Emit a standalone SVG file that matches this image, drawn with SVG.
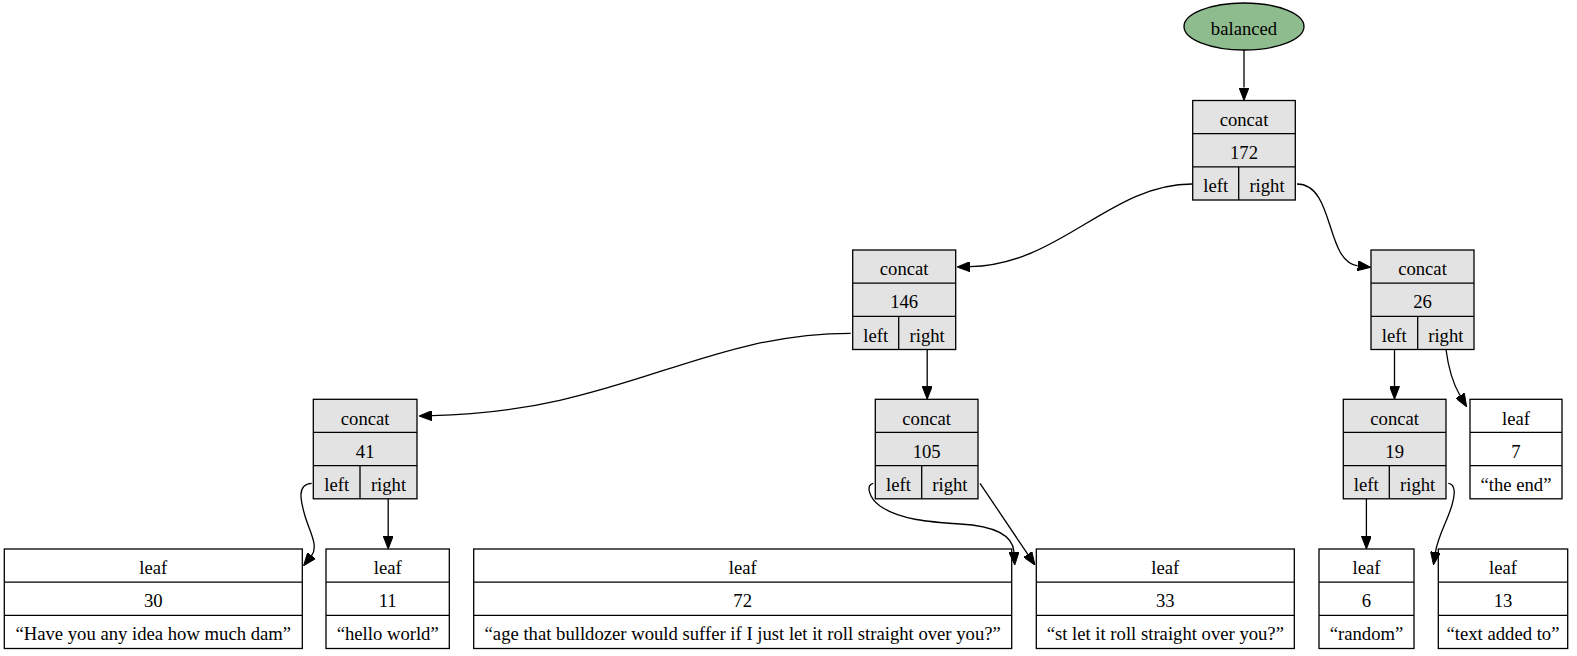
<svg xmlns="http://www.w3.org/2000/svg" width="1577" height="656" viewBox="0 0 1577 656" font-family="'Liberation Serif', 'DejaVu Serif', serif">
<style>
  text { font-family: 'Liberation Serif', 'DejaVu Serif', serif; font-size: 18.67px; fill: #000; text-anchor: middle; }
  .c { fill: #e3e3e3; stroke: #000; stroke-width: 1.3; }
  .l { fill: #ffffff; stroke: #000; stroke-width: 1.3; }
  .sep { stroke: #000; stroke-width: 1.3; fill: none; }
  .e { fill: none; stroke: #000; stroke-width: 1.3; marker-end: url(#arr); }
</style>
<defs>
  <marker id="arr" viewBox="0 0 13 10" refX="0" refY="5" markerWidth="13" markerHeight="10" markerUnits="userSpaceOnUse" orient="auto">
    <path d="M0,0 L13,5 L0,10 Z" fill="#000" stroke="#000" stroke-width="1"/>
  </marker>
</defs>
<rect width="1577" height="656" fill="#ffffff"/>

<g id="balanced">
  <ellipse cx="1244" cy="26.5" rx="60" ry="23.5" fill="#8fbc8f" stroke="#000" stroke-width="1.3"/>
  <text x="1244" y="35.3">balanced</text>
</g>

<g id="concat172">
  <rect class="c" x="1192.7" y="100.5" width="102.6" height="99.5"/>
  <path class="sep" d="M1192.7,133.67H1295.3M1192.7,166.83H1295.3M1238.7,166.83V200"/>
  <text x="1244" y="125.8">concat</text>
  <text x="1244" y="158.9">172</text>
  <text x="1215.7" y="192">left</text>
  <text x="1267" y="192">right</text>
</g>

<g id="concat146">
  <rect class="c" x="852.7" y="250" width="103" height="99.5"/>
  <path class="sep" d="M852.7,283.17H955.7M852.7,316.33H955.7M898.7,316.33V349.5"/>
  <text x="904.2" y="275.3">concat</text>
  <text x="904.2" y="308.4">146</text>
  <text x="875.7" y="341.5">left</text>
  <text x="927.2" y="341.5">right</text>
</g>

<g id="concat26">
  <rect class="c" x="1371" y="250" width="103" height="99.5"/>
  <path class="sep" d="M1371,283.17H1474M1371,316.33H1474M1417.7,316.33V349.5"/>
  <text x="1422.5" y="275.3">concat</text>
  <text x="1422.5" y="308.4">26</text>
  <text x="1394.3" y="341.5">left</text>
  <text x="1445.8" y="341.5">right</text>
</g>

<g id="concat41">
  <rect class="c" x="313.3" y="399.3" width="103.7" height="99.5"/>
  <path class="sep" d="M313.3,432.47H417M313.3,465.63H417M360,465.63V498.8"/>
  <text x="365.2" y="424.5">concat</text>
  <text x="365.2" y="457.6">41</text>
  <text x="336.7" y="490.8">left</text>
  <text x="388.5" y="490.8">right</text>
</g>

<g id="concat105">
  <rect class="c" x="875.3" y="399.3" width="102.7" height="99.5"/>
  <path class="sep" d="M875.3,432.47H978M875.3,465.63H978M921.7,465.63V498.8"/>
  <text x="926.7" y="424.5">concat</text>
  <text x="926.7" y="457.6">105</text>
  <text x="898.5" y="490.8">left</text>
  <text x="949.9" y="490.8">right</text>
</g>

<g id="concat19">
  <rect class="c" x="1343.3" y="399.3" width="102.7" height="99.5"/>
  <path class="sep" d="M1343.3,432.47H1446M1343.3,465.63H1446M1389.3,465.63V498.8"/>
  <text x="1394.7" y="424.5">concat</text>
  <text x="1394.7" y="457.6">19</text>
  <text x="1366.3" y="490.8">left</text>
  <text x="1417.7" y="490.8">right</text>
</g>

<g id="leaf7">
  <rect class="l" x="1470" y="399.3" width="92" height="99.5"/>
  <path class="sep" d="M1470,432.47H1562M1470,465.63H1562"/>
  <text x="1516" y="424.5">leaf</text>
  <text x="1516" y="457.6">7</text>
  <text x="1516" y="490.8">“the end”</text>
</g>

<g id="leaf30">
  <rect class="l" x="4.3" y="549" width="298" height="99.5"/>
  <path class="sep" d="M4.3,582.17H302.3M4.3,615.33H302.3"/>
  <text x="153.3" y="574">leaf</text>
  <text x="153.3" y="607.1">30</text>
  <text x="153.3" y="640.3">“Have you any idea how much dam”</text>
</g>

<g id="leaf11">
  <rect class="l" x="326" y="549" width="123.3" height="99.5"/>
  <path class="sep" d="M326,582.17H449.3M326,615.33H449.3"/>
  <text x="387.7" y="574">leaf</text>
  <text x="387.7" y="607.1">11</text>
  <text x="387.7" y="640.3">“hello world”</text>
</g>

<g id="leaf72">
  <rect class="l" x="473.7" y="549" width="538" height="99.5"/>
  <path class="sep" d="M473.7,582.17H1011.7M473.7,615.33H1011.7"/>
  <text x="742.7" y="574">leaf</text>
  <text x="742.7" y="607.1">72</text>
  <text x="742.7" y="640.3">“age that bulldozer would suffer if I just let it roll straight over you?”</text>
</g>

<g id="leaf33">
  <rect class="l" x="1036.3" y="549" width="258" height="99.5"/>
  <path class="sep" d="M1036.3,582.17H1294.3M1036.3,615.33H1294.3"/>
  <text x="1165.3" y="574">leaf</text>
  <text x="1165.3" y="607.1">33</text>
  <text x="1165.3" y="640.3">“st let it roll straight over you?”</text>
</g>

<g id="leaf6">
  <rect class="l" x="1319" y="549" width="95" height="99.5"/>
  <path class="sep" d="M1319,582.17H1414M1319,615.33H1414"/>
  <text x="1366.5" y="574">leaf</text>
  <text x="1366.5" y="607.1">6</text>
  <text x="1366.5" y="640.3">“random”</text>
</g>

<g id="leaf13">
  <rect class="l" x="1438.3" y="549" width="129.4" height="99.5"/>
  <path class="sep" d="M1438.3,582.17H1567.7M1438.3,615.33H1567.7"/>
  <text x="1503" y="574">leaf</text>
  <text x="1503" y="607.1">13</text>
  <text x="1503" y="640.3">“text added to”</text>
</g>

<g id="connectors">
  <path class="e" d="M1244,50 V87.5"/>
  <path class="e" d="M1192,184 C1110,184 1060,265 970,266.7"/>
  <path class="e" d="M1297,184 C1335,184 1325,262 1357.8,265.8"/>
  <path class="e" d="M850.7,333.3 C700,333.3 620,412 432,415.7"/>
  <path class="e" d="M927.2,349.5 V386.3"/>
  <path class="e" d="M311.7,483.3 C296,484 301,502 305,516 C309,530 319,546 311.6,555.5"/>
  <path class="e" d="M388.2,498.8 V536"/>
  <path class="e" d="M873.3,483.3 C866,484 868,497 880,506 C900,520 930,522 960,524 C995,526 1013,536 1014,552"/>
  <path class="e" d="M980,483.3 L1027.7,554.2"/>
  <path class="e" d="M1394.5,349.5 V386.3"/>
  <path class="e" d="M1446,349.5 C1448,365 1452,382 1460,395.5"/>
  <path class="e" d="M1366.4,498.8 V536"/>
  <path class="e" d="M1448.3,483.3 C1456,484 1455,495 1452,505 C1447,522 1438,536 1435.5,552"/>
</g>
</svg>
